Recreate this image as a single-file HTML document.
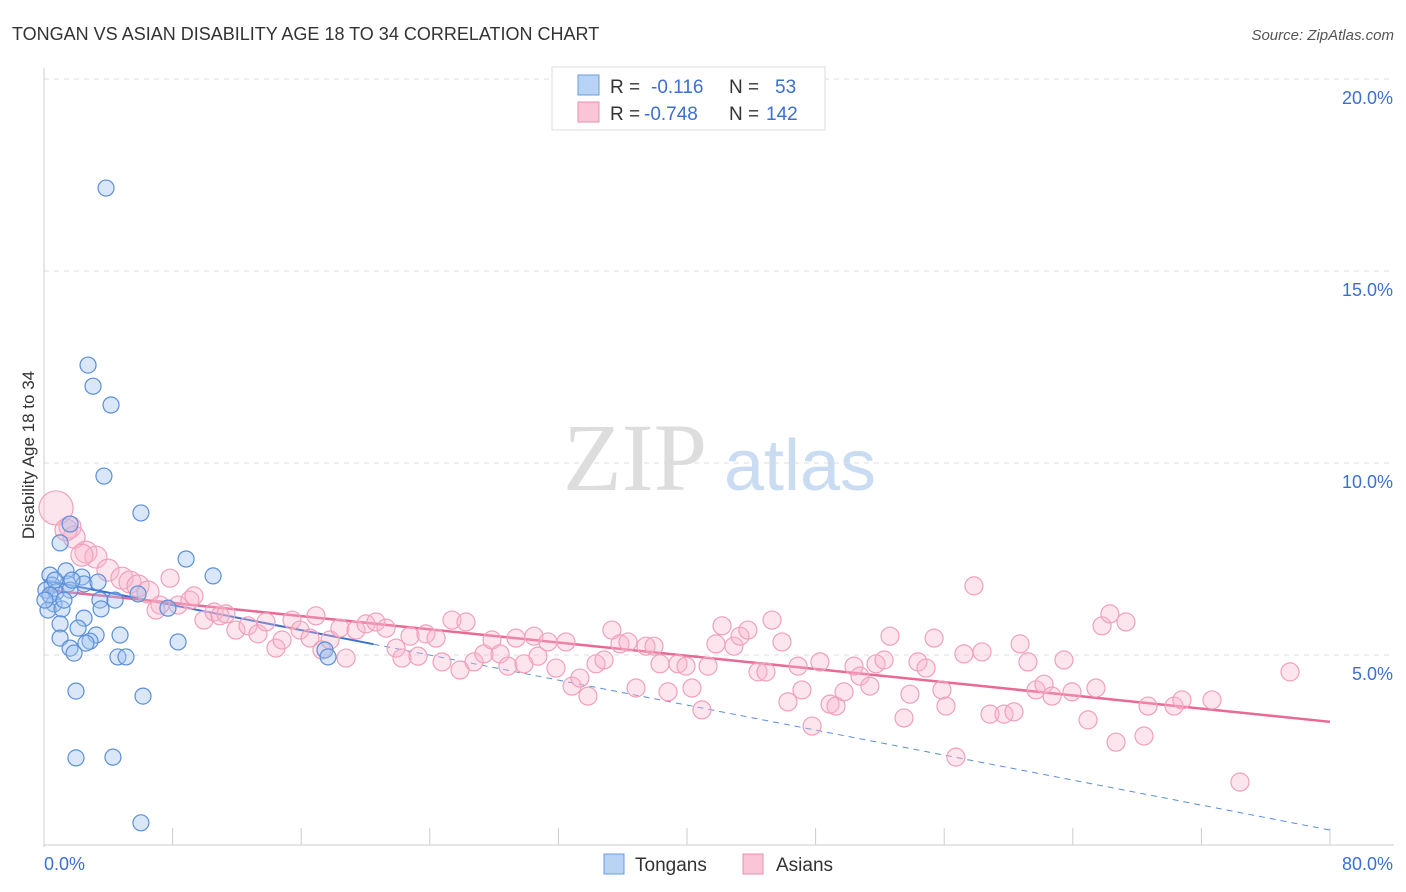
<!DOCTYPE html>
<html><head><meta charset="utf-8"><style>
body{margin:0;background:#fff;font-family:"Liberation Sans",sans-serif;}
svg{display:block}
</style></head><body>
<svg id="chart" width="1406" height="892" viewBox="0 0 1406 892">
<text x="12" y="40" font-size="18" fill="#333">TONGAN VS ASIAN DISABILITY AGE 18 TO 34 CORRELATION CHART</text>
<text x="1394" y="40" font-size="15" fill="#555" font-style="italic" text-anchor="end">Source: ZipAtlas.com</text>
<g>
<text x="635" y="490" font-size="96" fill="#ddd" font-family="Liberation Serif,serif" text-anchor="middle">ZIP</text>
<text x="800" y="490" font-size="72" fill="#c9dcf2" text-anchor="middle">atlas</text>
</g>
<g id="grid"></g><g id="axes"></g><g id="lines"></g><g id="pts"></g>
<text transform="translate(34,455) rotate(-90)" font-size="17" fill="#333" text-anchor="middle">Disability Age 18 to 34</text>
<g>
<rect x="552" y="67" width="273" height="63" fill="#fff" stroke="#ddd"/>
<rect x="578" y="75" width="21" height="20" fill="#b8d3f3" stroke="#6a9ee0"/>
<rect x="578" y="102" width="21" height="20" fill="#fac5d6" stroke="#ec90ae"/>
<text x="610" y="93" font-size="19" fill="#333">R = </text><text x="651" y="93" font-size="19" fill="#3b6fd0">-0.116</text>
<text x="729" y="93" font-size="19" fill="#333">N = </text><text x="775" y="93" font-size="19" fill="#3b6fd0">53</text>
<text x="610" y="120" font-size="19" fill="#333">R = </text><text x="644" y="120" font-size="19" fill="#3b6fd0">-0.748</text>
<text x="729" y="120" font-size="19" fill="#333">N = </text><text x="766" y="120" font-size="19" fill="#3b6fd0">142</text>
</g>
<g>
<rect x="604" y="854" width="20" height="20" fill="#b8d3f3" stroke="#6a9ee0"/>
<text x="635" y="871" font-size="19" fill="#333">Tongans</text>
<rect x="743" y="854" width="20" height="20" fill="#fac5d6" stroke="#ec90ae"/>
<text x="776" y="871" font-size="19" fill="#333">Asians</text>
</g>
</svg>
<script>
const yTicks=[5,10,15,20];
const yTickLabels=["5.0%","10.0%","15.0%","20.0%"];
const xEndLabels=["0.0%","80.0%"];
const xEnds=[0,80];
const tongX=[3.86,2.74,3.05,4.17,3.73,6.03,1.62,1.0,8.84,10.52,0.37,1.37,2.36,0.5,1.49,2.49,0.12,0.75,5.85,3.48,4.42,0.62,0.25,1.12,3.55,7.71,2.49,1.0,2.12,3.24,4.73,1.0,2.86,2.61,8.34,1.62,1.87,17.48,17.67,4.6,5.1,1.99,6.16,1.99,4.29,6.03,0.37,0.68,0.06,1.62,1.24,1.74,3.36];
const tongY=[17.16,12.55,12.0,11.51,9.66,8.7,8.41,7.92,7.5,7.06,7.08,7.19,7.03,6.82,6.85,6.85,6.69,6.64,6.59,6.43,6.43,6.33,6.17,6.2,6.2,6.22,5.96,5.81,5.7,5.52,5.52,5.44,5.36,5.31,5.34,5.18,5.05,5.13,4.95,4.95,4.95,4.06,3.93,2.32,2.34,0.63,6.56,6.95,6.43,6.69,6.43,6.95,6.9];
const asiX=[0.75,1.62,1.87,1.37,2.61,3.23,2.36,3.98,4.85,5.35,5.85,6.47,7.22,6.97,7.84,8.34,9.08,9.33,9.95,10.58,10.95,11.32,11.94,12.69,13.31,13.81,14.43,14.81,15.43,15.93,16.55,16.92,17.29,17.79,18.41,18.79,19.41,20.03,20.65,21.28,21.9,22.27,22.77,23.27,23.76,24.39,24.76,25.38,25.88,26.25,26.75,27.37,27.87,28.37,28.86,29.36,29.86,30.48,30.73,31.35,31.85,32.47,32.85,33.34,33.84,34.34,34.84,35.33,35.83,36.33,36.83,37.45,37.95,38.32,38.82,39.44,39.94,40.31,40.93,41.31,41.8,42.18,42.92,43.3,43.79,44.42,44.91,45.29,45.91,46.28,46.91,47.15,47.78,48.27,48.9,49.27,49.77,50.39,50.76,51.38,51.76,52.26,52.63,53.5,53.87,54.37,54.87,55.37,55.86,56.11,56.73,57.23,57.85,58.35,58.85,59.72,60.34,60.72,61.21,61.71,62.21,62.71,63.45,63.95,64.95,65.44,65.82,66.31,66.69,67.31,68.43,68.68,70.3,70.79,72.66,74.4,77.51];
const asiY=[8.83,8.33,8.07,8.26,7.68,7.55,7.6,7.21,7.0,6.9,6.8,6.64,6.3,6.17,7.0,6.3,6.43,6.54,5.91,6.12,6.02,6.07,5.65,5.76,5.55,5.86,5.18,5.39,5.91,5.65,5.44,6.02,5.13,5.39,5.7,4.92,5.65,5.81,5.86,5.7,5.18,4.92,5.49,4.97,5.55,5.44,4.82,5.91,4.61,5.86,4.82,5.03,5.39,5.03,4.71,5.44,4.77,5.49,4.97,5.34,4.66,5.34,4.19,4.4,3.93,4.77,4.87,5.65,5.29,5.34,4.14,5.23,5.23,4.77,4.04,4.77,4.71,4.14,3.57,4.71,5.29,5.76,5.23,5.49,5.65,4.56,4.56,5.91,5.34,3.78,4.71,4.09,3.15,4.82,3.72,3.67,4.04,4.71,4.45,4.19,4.77,4.87,5.49,3.36,3.98,4.82,4.66,5.44,4.09,3.67,2.34,5.03,6.8,5.08,3.46,3.46,3.52,5.29,4.82,4.09,4.24,3.93,4.87,4.04,3.31,4.14,5.76,6.07,2.73,5.86,2.89,3.67,3.67,3.83,3.83,1.69,4.56];
const tongTrend=[6.95,0.44];
const asiTrend=[6.7,3.26];
const tongSolidEnd=20.5;

const NS="http://www.w3.org/2000/svg";
const X0=44,X1=1330,Y0=847,Y20=79;
const sx=v=>X0+(X1-X0)*v/80;
const sy=v=>Y0-(Y0-Y20)*v/20;
function mk(tag,attrs,parent){const e=document.createElementNS(NS,tag);for(const k in attrs)e.setAttribute(k,attrs[k]);document.getElementById(parent).appendChild(e);return e;}
yTicks.forEach((t,i)=>{
 const g=mk('line',{x1:X0,x2:1394,y1:sy(t),y2:sy(t),stroke:'#ddd','stroke-dasharray':'5,5'},'grid');
 
 
 const l=mk('text',{x:1393,y:sy(t)+25,'font-size':18,fill:'#3b6fd0','text-anchor':'end'},'axes');
 l.textContent=yTickLabels[i];
 
 
});
const ax=mk('line',{x1:X0,x2:X0,y1:68,y2:Y0,stroke:'#ccc'},'axes');


const bx=mk('line',{x1:X0,x2:1394,y1:Y0-2,y2:Y0-2,stroke:'#ccc'},'axes');


for(let i=0;i<=10;i++){const t=mk('line',{x1:sx(i*8),x2:sx(i*8),y1:828,y2:Y0-2,stroke:'#ccc'},'axes');
 
 }
xEnds.forEach((v,i)=>{const t=mk('text',{x:i?1393:X0,y:870,'font-size':18,fill:'#3b6fd0','text-anchor':i?'end':'start'},'axes');t.textContent=xEndLabels[i];
 
 });
asiX.forEach((v,i)=>{const r=i===0?17:(i<12?11:9);
 const c=mk('circle',{cx:sx(v),cy:sy(asiY[i]),r:r,fill:'rgba(248,180,202,0.35)',stroke:'#f0a0bb','stroke-width':1.2},'pts');
 
 });
tongX.forEach((v,i)=>{
 const c=mk('circle',{cx:sx(v),cy:sy(tongY[i]),r:8,fill:'rgba(160,196,240,0.4)',stroke:'#5b8fd8','stroke-width':1.2},'pts');
 
 });
const tl=v=>tongTrend[0]+(tongTrend[1]-tongTrend[0])*v/80;
const l1=mk('line',{x1:sx(0),y1:sy(tl(0)),x2:sx(tongSolidEnd),y2:sy(tl(tongSolidEnd)),stroke:'#3b6fd0','stroke-width':2},'lines');


const l2=mk('line',{x1:sx(tongSolidEnd),y1:sy(tl(tongSolidEnd)),x2:sx(80),y2:sy(tl(80)),stroke:'#5b8fd8','stroke-width':1,'stroke-dasharray':'6,5'},'lines');


const l3=mk('line',{x1:sx(0),y1:sy(asiTrend[0]),x2:sx(80),y2:sy(asiTrend[1]),stroke:'#e86896','stroke-width':2.5},'lines');


</script>
</body></html>
